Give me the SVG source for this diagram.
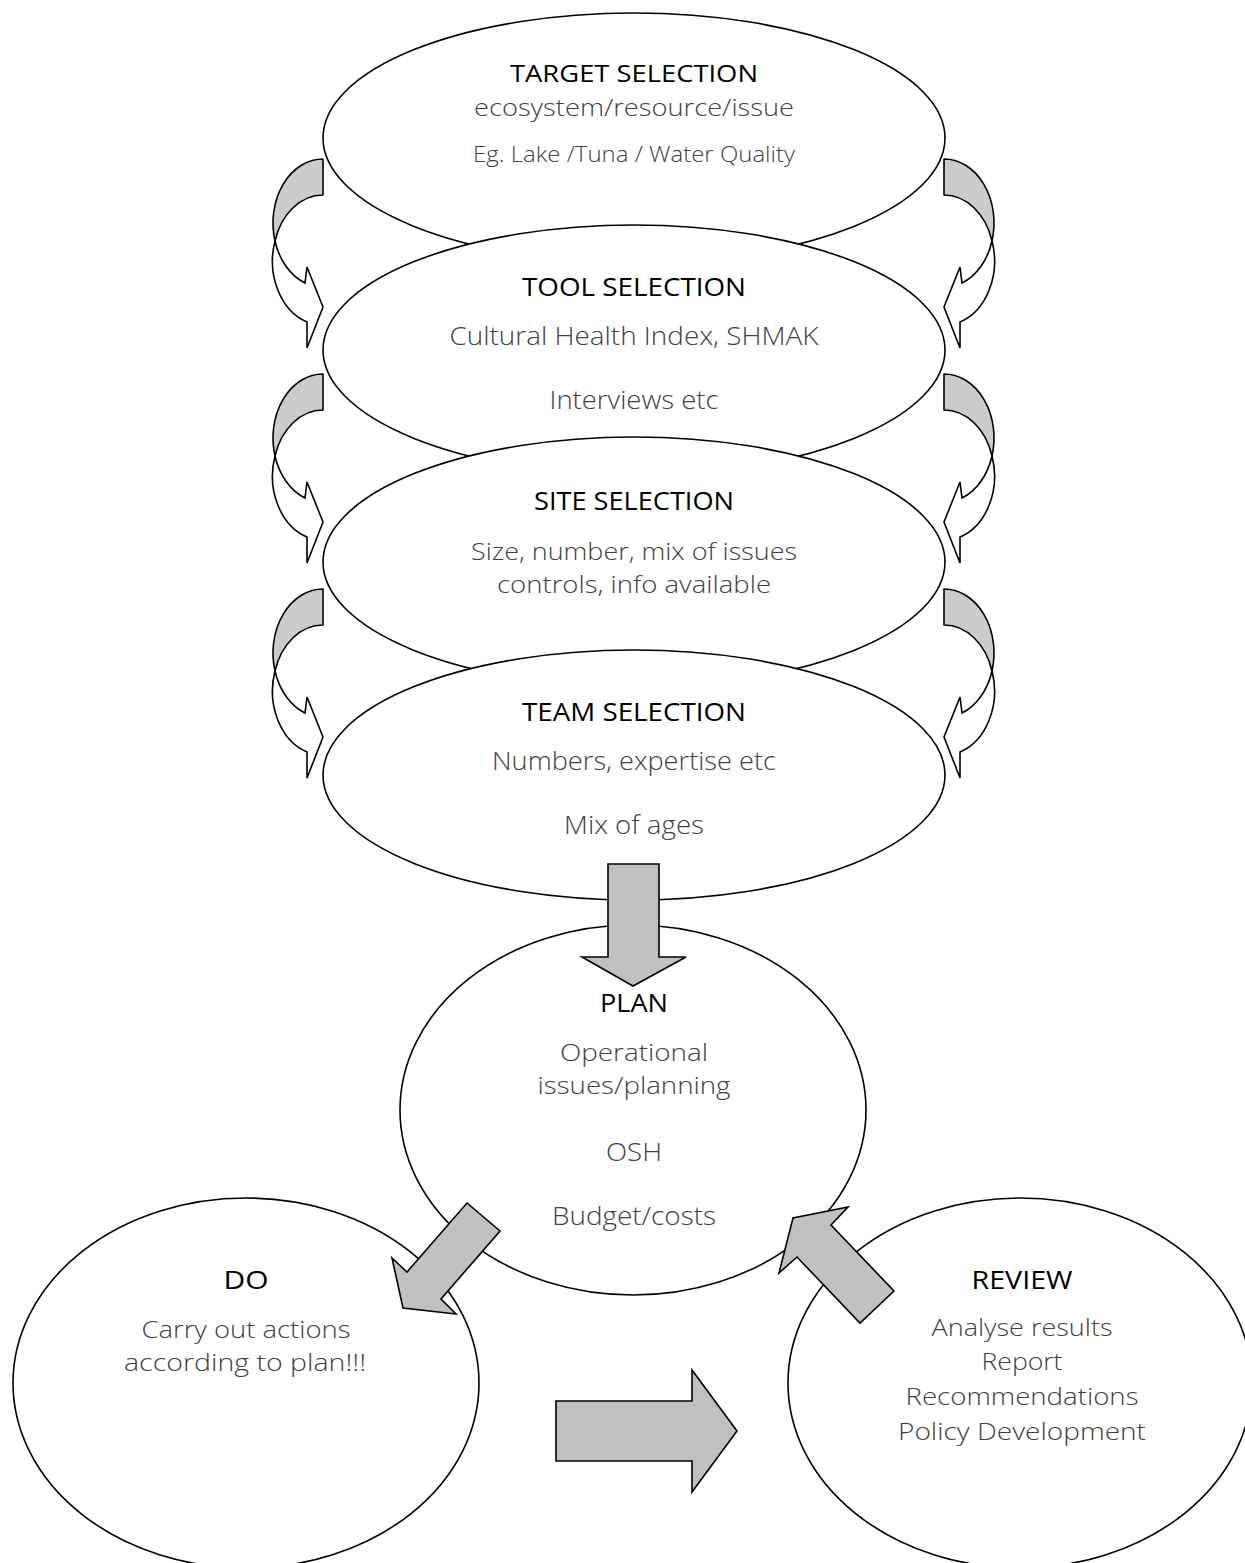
<svg xmlns="http://www.w3.org/2000/svg" width="1245" height="1563" viewBox="0 0 1245 1563">
<defs>
<style>
.node ellipse{fill:#fff;stroke:#000;stroke-width:1.6}
.t{font-family:"Open Sans","Liberation Sans",sans-serif;text-anchor:middle;font-size:26px}
.h{fill:#000;font-weight:400}
.b{fill:#404040;font-weight:300}
.s{font-size:22px}
.c{font-size:24px}
.back{fill:#cccccc;stroke:#000;stroke-width:1.6;stroke-linejoin:round}
.front{fill:#fff;stroke:#000;stroke-width:1.6;stroke-linejoin:miter}
.blk{fill:#c0c0c0;stroke:#000;stroke-width:1.6;stroke-linejoin:miter}
</style>
<g id="curl">
<path class="back" d="M323,159 A50,64 0 0 0 275,241 A50,64 0 0 1 323,195 Z"/>
<path class="front" d="M275,241 A50,64 0 0 0 305,283 L307,267 L323,307 L307,348 L307,322 A50,64 0 0 1 275,241 Z"/>
</g>
</defs>
<rect width="1245" height="1563" fill="#fff"/>

<g id="target" class="node">
<ellipse cx="634" cy="138" rx="311" ry="125"/>
<text class="t h c" x="634" y="82" textLength="248" lengthAdjust="spacingAndGlyphs">TARGET SELECTION</text>
<text class="t b c" x="634" y="116" textLength="320" lengthAdjust="spacingAndGlyphs">ecosystem/resource/issue</text>
<text class="t b s" x="634" y="162" textLength="322" lengthAdjust="spacingAndGlyphs">Eg. Lake /Tuna / Water Quality</text>
</g>
<g id="tool" class="node">
<ellipse cx="634" cy="350" rx="311" ry="125"/>
<text class="t h" x="634" y="296" textLength="224" lengthAdjust="spacingAndGlyphs">TOOL SELECTION</text>
<text class="t b" x="634" y="345" textLength="369" lengthAdjust="spacingAndGlyphs">Cultural Health Index, SHMAK</text>
<text class="t b" x="634" y="409" textLength="169" lengthAdjust="spacingAndGlyphs">Interviews etc</text>
</g>
<g id="site" class="node">
<ellipse cx="634" cy="562" rx="311" ry="125"/>
<text class="t h" x="634" y="510" textLength="200" lengthAdjust="spacingAndGlyphs">SITE SELECTION</text>
<text class="t b c" x="634" y="560" textLength="326" lengthAdjust="spacingAndGlyphs">Size, number, mix of issues</text>
<text class="t b c" x="634" y="593" textLength="274" lengthAdjust="spacingAndGlyphs">controls, info available</text>
</g>
<g id="team" class="node">
<ellipse cx="634" cy="775" rx="311" ry="125"/>
<text class="t h" x="634" y="721" textLength="224" lengthAdjust="spacingAndGlyphs">TEAM SELECTION</text>
<text class="t b" x="634" y="770" textLength="284" lengthAdjust="spacingAndGlyphs">Numbers, expertise etc</text>
<text class="t b" x="634" y="834" textLength="140" lengthAdjust="spacingAndGlyphs">Mix of ages</text>
</g>
<g id="plan" class="node">
<ellipse cx="633" cy="1110" rx="233" ry="185"/>
<text class="t h" x="634" y="1012" textLength="68" lengthAdjust="spacingAndGlyphs">PLAN</text>
<text class="t b c" x="634" y="1061" textLength="148" lengthAdjust="spacingAndGlyphs">Operational</text>
<text class="t b c" x="634" y="1094" textLength="193" lengthAdjust="spacingAndGlyphs">issues/planning</text>
<text class="t b" x="634" y="1161" textLength="56" lengthAdjust="spacingAndGlyphs">OSH</text>
<text class="t b" x="634" y="1225" textLength="164" lengthAdjust="spacingAndGlyphs">Budget/costs</text>
</g>
<g id="do" class="node">
<ellipse cx="246" cy="1383" rx="233" ry="185"/>
<text class="t h" x="246" y="1289" textLength="45" lengthAdjust="spacingAndGlyphs">DO</text>
<text class="t b c" x="246" y="1338" textLength="209" lengthAdjust="spacingAndGlyphs">Carry out actions</text>
<text class="t b c" x="245" y="1371" textLength="242" lengthAdjust="spacingAndGlyphs">according to plan!!!</text>
</g>
<g id="review" class="node">
<ellipse cx="1020" cy="1383" rx="232" ry="185"/>
<text class="t h" x="1022" y="1289" textLength="101" lengthAdjust="spacingAndGlyphs">REVIEW</text>
<text class="t b c" x="1022" y="1336" textLength="181" lengthAdjust="spacingAndGlyphs">Analyse results</text>
<text class="t b c" x="1022" y="1370" textLength="81" lengthAdjust="spacingAndGlyphs">Report</text>
<text class="t b c" x="1022" y="1405" textLength="233" lengthAdjust="spacingAndGlyphs">Recommendations</text>
<text class="t b c" x="1022" y="1440" textLength="248" lengthAdjust="spacingAndGlyphs">Policy Development</text>
</g>

<g id="connectors">
<use href="#curl"/>
<use href="#curl" transform="translate(0,215)"/>
<use href="#curl" transform="translate(0,430)"/>
<use href="#curl" transform="translate(1267,0) scale(-1,1)"/>
<use href="#curl" transform="translate(1267,215) scale(-1,1)"/>
<use href="#curl" transform="translate(1267,430) scale(-1,1)"/>
<polygon class="blk" points="608,864 659,864 659,957 686,957 633,986 582,957 608,957"/>
<polygon class="blk" points="467,1203 500,1231 441,1299 456,1314 403,1308 392,1258 407,1272"/>
<polygon class="blk" points="894,1291 860,1323 797,1257 779,1273 793,1218 848,1207 831,1225"/>
<polygon class="blk" points="556,1401 692,1401 692,1370 737,1431 692,1492 692,1461 556,1461"/>
</g>
</svg>
